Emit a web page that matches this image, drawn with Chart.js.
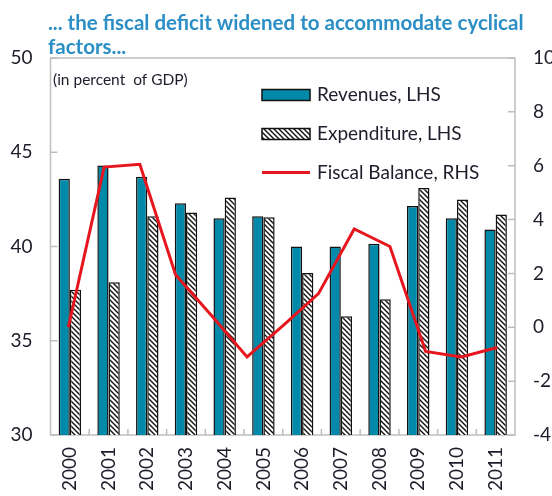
<!DOCTYPE html>
<html>
<head>
<meta charset="utf-8">
<script src="https://cdn.jsdelivr.net/npm/chart.js@4/dist/chart.umd.min.js"></script>
<style>
  html, body { margin: 0; padding: 0; background: #fff; }
  #wrap { position: relative; width: 552px; height: 496px; }
  #wrap canvas { position: absolute; left: 0; top: 0; }
</style>
</head>
<body>
<div id="wrap">
  <canvas id="bars" width="552" height="496"></canvas>
  <canvas id="line" width="552" height="496"></canvas>
</div>
<script>
// chart data
var years = ['2000', '2001', '2002', '2003', '2004', '2005', '2006', '2007', '2008', '2009', '2010', '2011'];
var revenues = [43.6, 44.3, 43.7, 42.3, 41.5, 41.6, 40.0, 40.0, 40.15, 42.15, 41.5, 40.9];
var expenditure = [37.7, 38.1, 41.6, 41.8, 42.6, 41.55, 38.6, 36.3, 37.2, 43.1, 42.5, 41.7];
// the balance line has 13 observations on its own (secondary) category axis
var balancePeriods = ['2000', '2001', '2002', '2003', '2004', '2005', '2006', '2007', '2008', '2009', '2010', '2011', '2012'];
var fiscalBalance = [0.0, 5.95, 6.05, 1.95, 0.45, -1.1, 0.05, 1.25, 3.65, 3.0, -0.9, -1.1, -0.75];
var lhsTicks = [30, 35, 40, 45, 50];
var rhsTicks = [-4, -2, 0, 2, 4, 6, 8, 10];

var titleLines = ['... the fiscal deficit widened to accommodate cyclical', 'factors...'];
var unitNote = '(in percent  of GDP)';

var FONT = 'Lato, "Open Sans", sans-serif';
var TEXT = '#1d1d2b';
var TEAL = '#0089A9';
var RED = '#E5161D';
var FRAME = '#BEBEBE';
// plot box shared by both canvases
var PAD = { top: 58, left: 50.5, right: 37, bottom: 61 };

// hatch pattern for the expenditure bars
function makeHatch() {
  var c = document.createElement('canvas');
  c.width = 5; c.height = 5;
  var g = c.getContext('2d');
  g.fillStyle = '#fff';
  g.fillRect(0, 0, 5, 5);
  g.strokeStyle = '#111';
  g.lineWidth = 1.4;
  g.beginPath();
  g.moveTo(-1, -1); g.lineTo(6, 6);
  g.moveTo(-1, 4); g.lineTo(1, 6);
  g.moveTo(4, -1); g.lineTo(6, 1);
  g.stroke();
  return g.createPattern(c, 'repeat');
}

var barChart;

var frame = {
  id: 'frame',
  beforeDraw: function(chart) {
    var ctx = chart.ctx;
    ctx.save();
    ctx.fillStyle = '#fff';
    ctx.fillRect(0, 0, chart.width, chart.height);
    ctx.restore();
  },
  beforeDatasetsDraw: function(chart) {
    var ctx = chart.ctx, a = chart.chartArea;
    var y = chart.scales.y, y1 = chart.scales.y1;
    ctx.save();
    ctx.strokeStyle = FRAME;
    ctx.lineWidth = 1.5;
    ctx.strokeRect(a.left, a.top, a.right - a.left, a.bottom - a.top);
    ctx.beginPath();
    // inward tick marks
    lhsTicks.forEach(function(v) {
      var p = y.getPixelForValue(v);
      ctx.moveTo(a.left, p); ctx.lineTo(a.left + 7, p);
    });
    rhsTicks.forEach(function(v) {
      var p = y1.getPixelForValue(v);
      ctx.moveTo(a.right, p); ctx.lineTo(a.right - 7, p);
    });
    var step = (a.right - a.left) / years.length;
    for (var i = 1; i < years.length; i++) {
      var px = a.left + step * i;
      ctx.moveTo(px, a.bottom); ctx.lineTo(px, a.bottom - 6);
    }
    ctx.stroke();
    ctx.restore();
  },
  afterDraw: function(chart) {
    var ctx = chart.ctx;
    ctx.save();
    ctx.textBaseline = 'middle';
    ctx.textAlign = 'left';
    ctx.fillStyle = '#2B8FC6';
    ctx.font = 'bold 20.5px ' + FONT;
    ctx.fillText(titleLines[0], 48, 23);
    ctx.fillText(titleLines[1], 48, 47);
    ctx.fillStyle = TEXT;
    ctx.font = '15.5px ' + FONT;
    ctx.fillText(unitNote, 53, 80);
    ctx.restore();
  }
};

var legendBox = {
  id: 'legendBox',
  afterDraw: function(chart) {
    var ctx = chart.ctx;
    var items = barChart.data.datasets.concat(chart.data.datasets);
    var rows = [95, 134, 172.5];
    ctx.save();
    ctx.textBaseline = 'middle';
    ctx.textAlign = 'left';
    ctx.font = '19px ' + FONT;
    items.forEach(function(ds, i) {
      var cy = rows[i];
      if (ds.type === 'line') {
        ctx.strokeStyle = ds.borderColor;
        ctx.lineWidth = 3;
        ctx.beginPath();
        ctx.moveTo(262, cy); ctx.lineTo(310, cy);
        ctx.stroke();
      } else {
        ctx.fillStyle = ds.backgroundColor;
        ctx.fillRect(262, cy - 5.5, 48, 11);
        ctx.strokeStyle = '#111';
        ctx.lineWidth = 1.5;
        ctx.strokeRect(262, cy - 5.5, 48, 11);
      }
      ctx.fillStyle = TEXT;
      ctx.fillText(ds.label, 317, cy);
    });
    ctx.restore();
  }
};

function draw() {
  barChart = new Chart(document.getElementById('bars'), {
    type: 'bar',
    data: {
      labels: years,
      datasets: [
        {
          type: 'bar',
          label: 'Revenues, LHS',
          data: revenues,
          backgroundColor: TEAL,
          borderColor: '#111',
          borderWidth: 1.5,
          borderSkipped: false,
          categoryPercentage: 0.58,
          barPercentage: 1.0
        },
        {
          type: 'bar',
          label: 'Expenditure, LHS',
          data: expenditure,
          backgroundColor: makeHatch(),
          borderColor: '#111',
          borderWidth: 1.5,
          borderSkipped: false,
          categoryPercentage: 0.58,
          barPercentage: 1.0
        }
      ]
    },
    options: {
      responsive: false,
      animation: false,
      layout: { padding: { top: PAD.top } },
      plugins: {
        legend: { display: false },
        title: { display: false },
        tooltip: { enabled: false }
      },
      scales: {
        x: {
          offset: true,
          grid: { display: false, drawTicks: false },
          border: { display: false },
          ticks: {
            color: TEXT,
            font: { family: FONT, size: 19 },
            minRotation: 90,
            maxRotation: 90,
            padding: 12
          },
          afterFit: function(s) { s.height = PAD.bottom; }
        },
        y: {
          position: 'left',
          min: 30,
          max: 50,
          grid: { display: false, drawTicks: false },
          border: { display: false },
          ticks: {
            stepSize: 5,
            color: TEXT,
            font: { family: FONT, size: 19 },
            padding: 18
          },
          afterFit: function(s) { s.width = PAD.left; }
        },
        y1: {
          position: 'right',
          min: -4,
          max: 10,
          grid: { display: false, drawTicks: false },
          border: { display: false },
          ticks: {
            stepSize: 2,
            color: TEXT,
            font: { family: FONT, size: 19 },
            padding: 18
          },
          afterFit: function(s) { s.width = PAD.right; }
        }
      }
    },
    plugins: [frame]
  });

  // fiscal balance (RHS) drawn over the same plot box
  new Chart(document.getElementById('line'), {
    type: 'line',
    data: {
      labels: balancePeriods,
      datasets: [{
        type: 'line',
        label: 'Fiscal Balance, RHS',
        data: fiscalBalance,
        borderColor: RED,
        backgroundColor: RED,
        borderWidth: 3,
        pointRadius: 0,
        tension: 0
      }]
    },
    options: {
      responsive: false,
      animation: false,
      layout: { padding: PAD },
      plugins: {
        legend: { display: false },
        title: { display: false },
        tooltip: { enabled: false }
      },
      scales: {
        x: { offset: true, display: false },
        y: { min: -4, max: 10, display: false }
      }
    },
    plugins: [legendBox]
  });
}

if (document.fonts && document.fonts.load) {
  Promise.all([
    document.fonts.load('19px Lato'),
    document.fonts.load('bold 20px Lato')
  ]).then(draw, draw);
} else {
  draw();
}
</script>
</body>
</html>
